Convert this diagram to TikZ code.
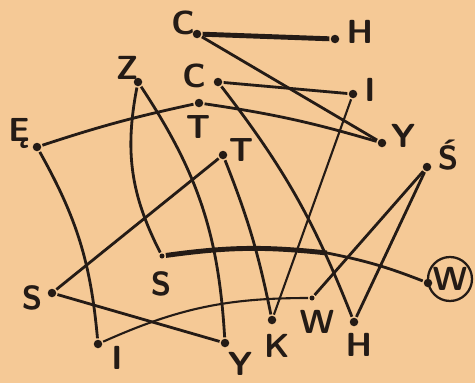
\documentclass[tikz,border=0pt]{standalone}
\usepackage{tikz}
\usetikzlibrary{calc}
\definecolor{paper}{RGB}{245,201,150}
\definecolor{ink}{RGB}{36,27,22}

\begin{document}
\begin{tikzpicture}[x=0.2mm,y=-0.2mm,inner sep=0.5mm,scale=1,color=ink,line width=1.6pt,
		vertex/.style={circle,fill,inner sep=0,minimum size=1.7mm},
		tip/.style={circle,fill,inner sep=0,minimum size=1mm},
		lab/.style={inner sep=0,font=\fontsize{19}{19}\selectfont\sffamily\bfseries},
		heavy/.style={line width=2.8pt},
		fine/.style={line width=1.2pt}]
	
	\fill[paper] (0,0) rectangle (475,383);
	\useasboundingbox (0,0) rectangle (475,383);
	
	\node at (197,34) [vertex] (c1) {};
	\node at (335,39) [vertex] (h1) {};
	\node at (138,82) [vertex] (z) {};
	\node at (218,82) [vertex] (c2) {};
	\node at (199,103) [vertex] (t1) {};
	\node at (353,94) [vertex] (i1) {};
	\node at (37,147) [vertex] (e) {};
	\node at (382,143) [vertex] (y1) {};
	\node at (427,167) [vertex] (s3) {};
	\node at (223,155) [vertex] (t2) {};
	\node at (52,293) [vertex] (s1) {};
	\node at (162,256) [tip] (s2) {};
	\node at (98,344) [vertex] (i2) {};
	\node at (225,343) [vertex] (y2) {};
	\node at (272,320) [vertex] (k) {};
	\node at (312,298) [tip] (w1) {};
	\node at (354,322) [vertex] (h2) {};
	\node at (428,283) [vertex] (w2) {};
	\coordinate (wm) at (327,253);
	
	% letters
	\node at (183,23) [lab] (lc1) {C};
	\node at (360,32) [lab] (lh1) {H};
	\node at (127,68) [lab] (lz) {Z};
	\node at (194,76) [lab] (lc2) {C};
	\node at (198,127) [lab] (lt1) {T};
	\node at (370,90) [lab] (li1) {I};
	\node at (19,134) [lab] (le) {Ę};
	\node at (403,136) [lab] (ly1) {Y};
	\node at (448,155) [lab] (ls3) {Ś};
	\node at (241,150) [lab] (lt2) {T};
	\node at (32,298) [lab] (ls1) {S};
	\node at (161,284) [lab] (ls2) {S};
	\node at (117,358) [lab] (li2) {I};
	\node at (240,364) [lab] (ly2) {Y};
	\node at (277,346) [lab] (lk) {K};
	\node at (317,322) [lab] (lw1) {W};
	\node at (359,345) [lab] (lh2) {H};
	\node at (450,279) [lab,circle,draw,line width=1.3pt,minimum size=44*0.2mm] (lw2) {W};
	
	\path
	(c1) edge[heavy] (h1)
	(c1) edge (y1)
	(c2) edge (i1)
	(c2) edge[bend left=8] (h2)
	
	(e) edge[bend left=3] (t1)
	(t1) edge[bend left=4] (y1)
	(e) edge[bend left=12] (i2)
	
	(z) edge[bend right=19] (s2)
	(z) edge[bend left=15] (y2)
	
	(t2) edge (s1)
	(t2) edge[bend left=5] (k)
	(i1) edge[fine] (k)
	(s1) edge (y2)
	
	(i2) edge[fine,bend left=12] (w1)
	(w1) edge (s3)
	(h2) edge (s3)
	
	(s2) edge[heavy,bend left=7] (wm)
	(wm) edge[bend left=5] (w2)
	;
	
\end{tikzpicture}
\end{document}
